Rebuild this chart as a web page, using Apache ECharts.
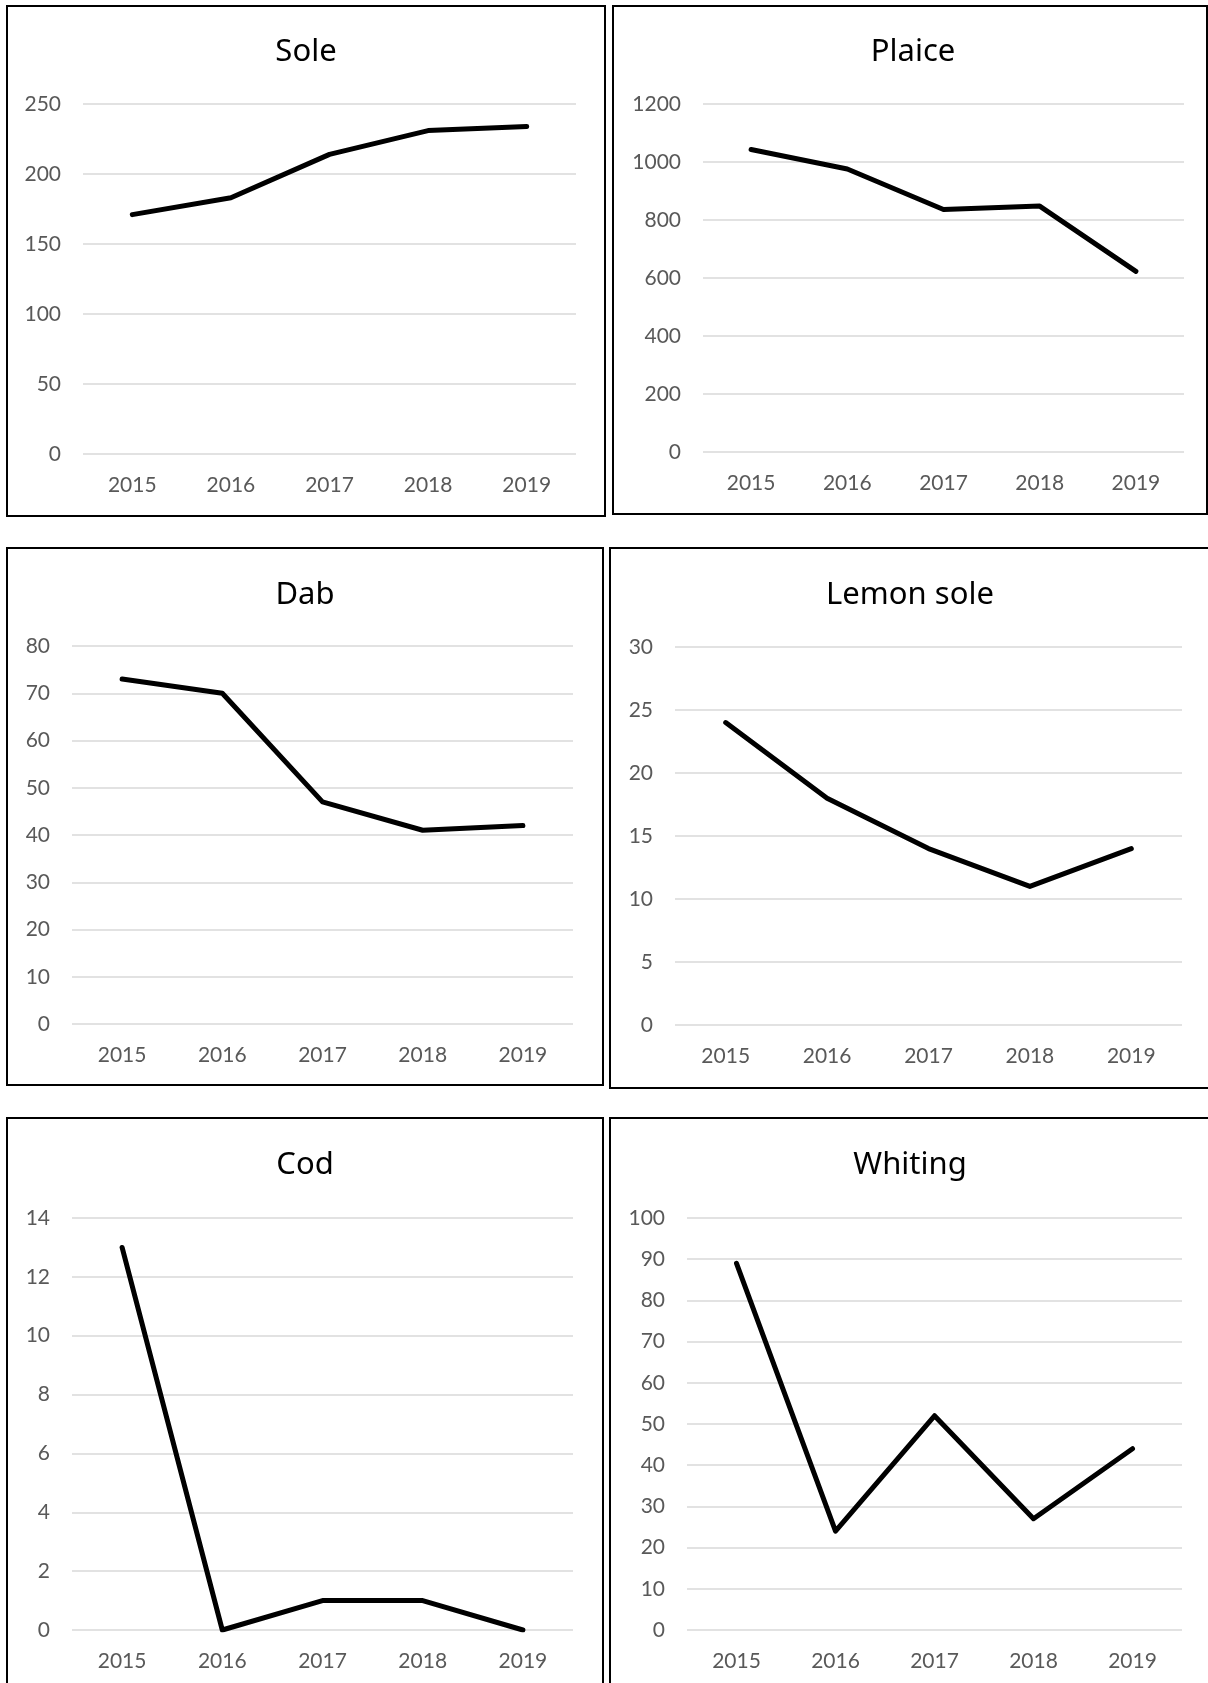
<!DOCTYPE html>
<html>
<head>
<meta charset="utf-8">
<title>Landings by species, 2015–2019</title>
<script src="https://cdn.jsdelivr.net/npm/echarts@6/dist/echarts.min.js"></script>
<style>
  html, body { margin: 0; padding: 0; background: #ffffff; }
  #chart { width: 1208px; height: 1683px; }
</style>
</head>
<body>
<div id="chart"></div>
<script>
// Years shared by every panel
const years = ['2015', '2016', '2017', '2018', '2019'];

// Panel titles
const speciesNames = ['Sole', 'Plaice', 'Dab', 'Lemon sole', 'Cod', 'Whiting'];

// Yearly values per species
const soleValues = [171, 183, 214, 231, 234];
const plaiceValues = [1043, 976, 836, 848, 623];
const dabValues = [73, 70, 47, 41, 42];
const lemonSoleValues = [24, 18, 14, 11, 14];
const codValues = [13, 0, 1, 1, 0];
const whitingValues = [89, 24, 52, 27, 44];

// Value-axis ranges (max and tick step) per panel
const axisMax = [250, 1200, 80, 30, 14, 100];
const axisStep = [50, 200, 10, 5, 2, 10];

const seriesValues = [soleValues, plaiceValues, dabValues, lemonSoleValues, codValues, whitingValues];

// Panel layout: frame box, plot area and title centre (pixels)
const panels = [
  { box: [7, 6, 598, 510],    plot: [83, 104, 493, 350],  title: [306, 52] },
  { box: [613, 6, 594, 508],  plot: [703, 104, 481, 348], title: [913, 52] },
  { box: [7, 548, 596, 537],  plot: [72, 646, 501, 378],  title: [305, 595] },
  { box: [610, 548, 620, 540], plot: [675, 647, 507, 378], title: [910, 595] },
  { box: [7, 1118, 596, 600], plot: [72, 1218, 501, 412], title: [305, 1165] },
  { box: [610, 1118, 620, 600], plot: [687, 1218, 495, 412], title: [910, 1165] }
];

const LABEL_FONT = 'Lato, "Noto Sans", sans-serif';
const TITLE_FONT = '"Noto Sans", "Open Sans", sans-serif';
const TITLE_SIZE = 31;
const LABEL_SIZE = 21;

const grid = [], xAxis = [], yAxis = [], series = [], title = [], graphic = [];

panels.forEach((p, i) => {
  graphic.push({
    type: 'rect',
    silent: true,
    shape: { x: p.box[0], y: p.box[1], width: p.box[2], height: p.box[3] },
    style: { fill: 'none', stroke: '#000000', lineWidth: 2 },
    z: 0
  });

  title.push({
    text: speciesNames[i],
    left: p.title[0],
    top: p.title[1] - TITLE_SIZE / 2,
    textAlign: 'center',
    padding: 0,
    textStyle: { fontFamily: TITLE_FONT, fontSize: TITLE_SIZE, fontWeight: 'normal', color: '#000000', lineHeight: TITLE_SIZE }
  });

  grid.push({
    left: p.plot[0], top: p.plot[1], width: p.plot[2], height: p.plot[3],
    containLabel: false
  });

  xAxis.push({
    type: 'category',
    gridIndex: i,
    data: years,
    boundaryGap: true,
    axisLine: { show: false },
    axisTick: { show: false },
    axisLabel: { color: '#595959', fontFamily: LABEL_FONT, fontSize: LABEL_SIZE, margin: 21 }
  });

  yAxis.push({
    type: 'value',
    gridIndex: i,
    min: 0,
    max: axisMax[i],
    interval: axisStep[i],
    axisLine: { show: false },
    axisTick: { show: false },
    axisLabel: {
      color: '#595959', fontFamily: LABEL_FONT, fontSize: LABEL_SIZE, margin: 22,
      formatter: v => String(v)
    },
    splitLine: { show: true, lineStyle: { color: '#d9d9d9', width: 1.5 } }
  });

  series.push({
    type: 'line',
    name: speciesNames[i],
    xAxisIndex: i,
    yAxisIndex: i,
    data: seriesValues[i],
    symbol: 'none',
    animation: false,
    lineStyle: { color: '#000000', width: 5, cap: 'round', join: 'round' },
    z: 3
  });
});

const chart = echarts.init(document.getElementById('chart'), null, { renderer: 'canvas' });
chart.setOption({
  backgroundColor: '#ffffff',
  animation: false,
  title, grid, xAxis, yAxis, series, graphic
});
</script>
</body>
</html>
